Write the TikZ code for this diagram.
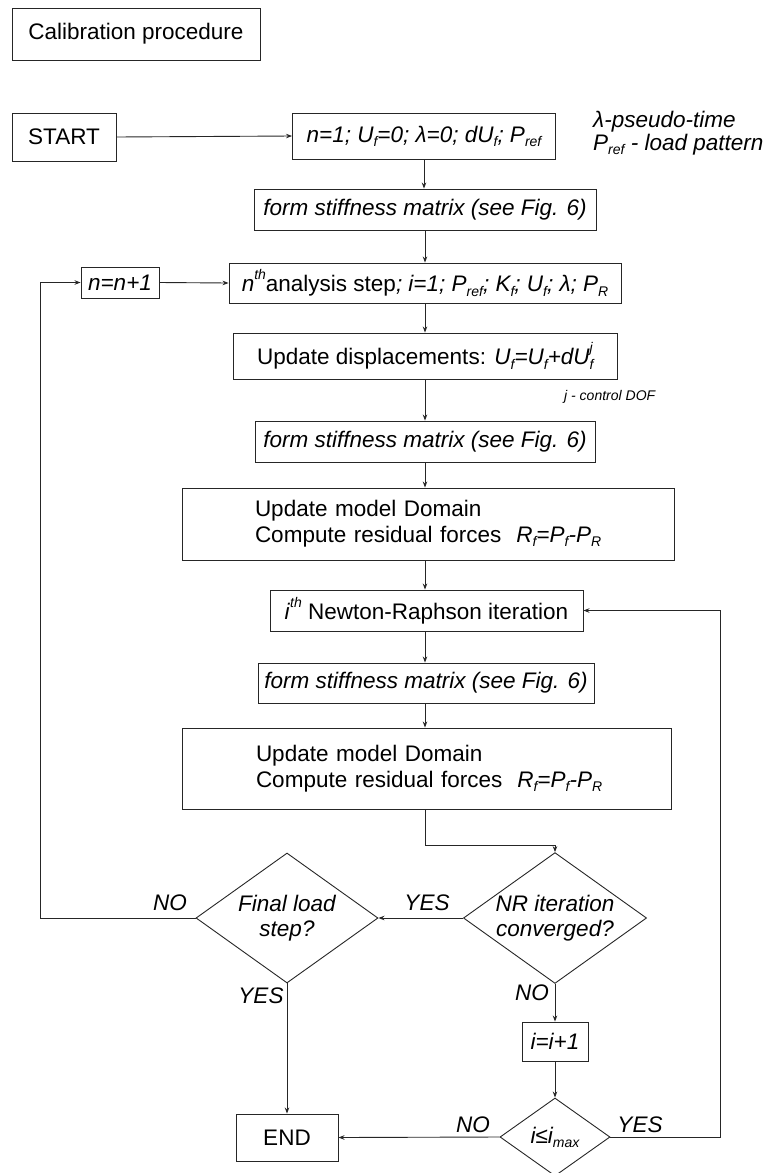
\documentclass[tikz,border=0pt]{standalone}
\usepackage{fontspec}
\setmainfont{Liberation Sans}
\usetikzlibrary{arrows.meta,shapes.geometric}
\newcommand\lsub[1]{\raisebox{-0.35ex}{\fontsize{14}{14}\selectfont #1}}
\newcommand\lsup[1]{\raisebox{1.05ex}{\fontsize{14}{14}\selectfont #1}}
\begin{document}
\begin{tikzpicture}[x=1pt,y=-1pt,
  every node/.style={font=\fontsize{22.5}{26}\selectfont},
  box/.style={draw=black!85, line width=0.9pt, inner sep=0pt, align=center},
  dia/.style={draw=black!85, line width=0.9pt, diamond, aspect=1.4, inner sep=0pt, align=center, font=\fontsize{22.5}{25}\selectfont\itshape},
  lbl/.style={font=\fontsize{22.5}{26}\selectfont\itshape, inner sep=0pt},
  conn/.style={line width=0.9pt, draw=black!85, -{Stealth[length=6pt,width=4.5pt]}},
  plain/.style={line width=0.9pt, draw=black!85}
]
\useasboundingbox (0,0) rectangle (771,1173);

% boxes
\node[box, minimum width=248pt, minimum height=52pt] (cal) at (136,34) {Calibration procedure};
\node[box, minimum width=104pt, minimum height=48pt] (start) at (64,137) {START};
\node[box, minimum width=263pt, minimum height=46pt, font=\fontsize{22.5}{26}\selectfont\itshape] (init) at (424,136) {n=1; U\lsub{f}=0; λ=0; dU\lsub{f}; P\lsub{ref}};
\node[lbl, anchor=west] (ann1) at (593,122) {λ-pseudo-time};
\node[lbl, anchor=west] (ann2) at (593,145) {P\lsub{ref} - load pattern};
\node[box, minimum width=342pt, minimum height=41pt, font=\fontsize{22.5}{26}\selectfont\itshape] (form1) at (425,209.5) {form stiffness matrix (see Fig. 6)};
\node[box, minimum width=392pt, minimum height=40pt] (step) at (425,283) {\textit{n}\lsup{\itshape th}analysis step\textit{; i=1; P\lsub{ref}; K\lsub{f}; U\lsub{f}; λ; P\lsub{R}}};
\node[box, minimum width=78pt, minimum height=31pt, font=\fontsize{22.5}{26}\selectfont\itshape] (nn) at (120,282.5) {n=n+1};
\node[box, minimum width=384pt, minimum height=46pt] (upd) at (425,356) {Update displacements: \textit{U\lsub{f}=U\lsub{f}+dU\rlap{\lsub{f}}\lsup{j}}};
\node[lbl, anchor=west, font=\fontsize{14}{16}\selectfont\itshape] (jdof) at (564,397) {j - control DOF};
\node[box, minimum width=340pt, minimum height=41pt, font=\fontsize{22.5}{26}\selectfont\itshape] (form2) at (425,441.5) {form stiffness matrix (see Fig. 6)};
\node[box, minimum height=72pt, inner xsep=73pt, text width=346pt, align=left] (dom1) at (428,524) {Update model Domain\\\mbox{Compute residual forces\ \ \textit{R\lsub{f}=P\lsub{f}-P\lsub{R}}}};
\node[box, minimum width=313pt, minimum height=41pt] (nr) at (426.5,610.5) {\textit{i}\lsup{\itshape th} Newton-Raphson iteration};
\node[box, minimum width=336pt, minimum height=40pt, font=\fontsize{22.5}{26}\selectfont\itshape] (form3) at (426,683) {form stiffness matrix (see Fig. 6)};
\node[box, minimum height=81pt, inner xsep=74pt, text width=341pt, align=left] (dom2) at (426.5,768.5) {Update model Domain\\\mbox{Compute residual forces\ \ \textit{R\lsub{f}=P\lsub{f}-P\lsub{R}}}};
\coordinate (bend) at (0,845);
\node[dia, minimum width=182pt, minimum height=130pt] (conv) at (555,918) {NR iteration\\converged?};
\node[dia, minimum width=182pt, minimum height=130pt] (fin) at (287,918) {Final load\\step?};
\coordinate (lp) at (40,918);
\node[box, minimum width=102pt, minimum height=47pt] (end) at (287,1137.5) {END};
\node[box, minimum width=66pt, minimum height=39pt, font=\fontsize{22.5}{26}\selectfont\itshape] (inc) at (555,1041.5) {i=i+1};
\node[dia, minimum width=110pt, minimum height=78pt] (imax) at (555,1137) {i≤i\lsub{max}};
\coordinate (rp) at (720,1137);

% labels
\node[lbl] (l1) at (170,903) {NO};
\node[lbl] (l2) at (427,903) {YES};
\node[lbl] (l3) at (261,996) {YES};
\node[lbl] (l4) at (532,993) {NO};
\node[lbl] (l5) at (473,1125) {NO};
\node[lbl] (l6) at (640,1125) {YES};

% connectors
\draw[conn] (start.east) -- (init.west);
\draw[conn] (init.south) -- (init.south |- form1.north);
\draw[conn] (form1.south) -- (form1.south |- step.north);
\draw[conn] (nn.east) -- (step.west);
\draw[conn] (step.south) -- (upd.north);
\draw[conn] (upd.south) -- (form2.north);
\draw[conn] (form2.south) -- (form2.south |- dom1.north);
\draw[conn] (dom1.south -| form2.south) -- (form2.south |- nr.north);
\draw[conn] (nr.south -| form2.south) -- (form2.south |- form3.north);
\draw[conn] (form3.south -| form2.south) -- (form2.south |- dom2.north);
\draw[conn] (dom2.south -| form2.south) -- (form2.south |- bend) -- (bend -| conv.north) -- (conv.north);
\draw[conn] (conv.west) -- (fin.east);
\draw[conn] (fin.west) -- (lp) |- (nn.west);
\draw[conn] (fin.south) -- (end.north);
\draw[conn] (conv.south) -- (inc.north);
\draw[conn] (inc.south) -- (imax.north);
\draw[conn] (imax.west) -- (end.east);
\draw[conn] (imax.east) -- (rp) |- (nr.east);
\end{tikzpicture}
\end{document}
